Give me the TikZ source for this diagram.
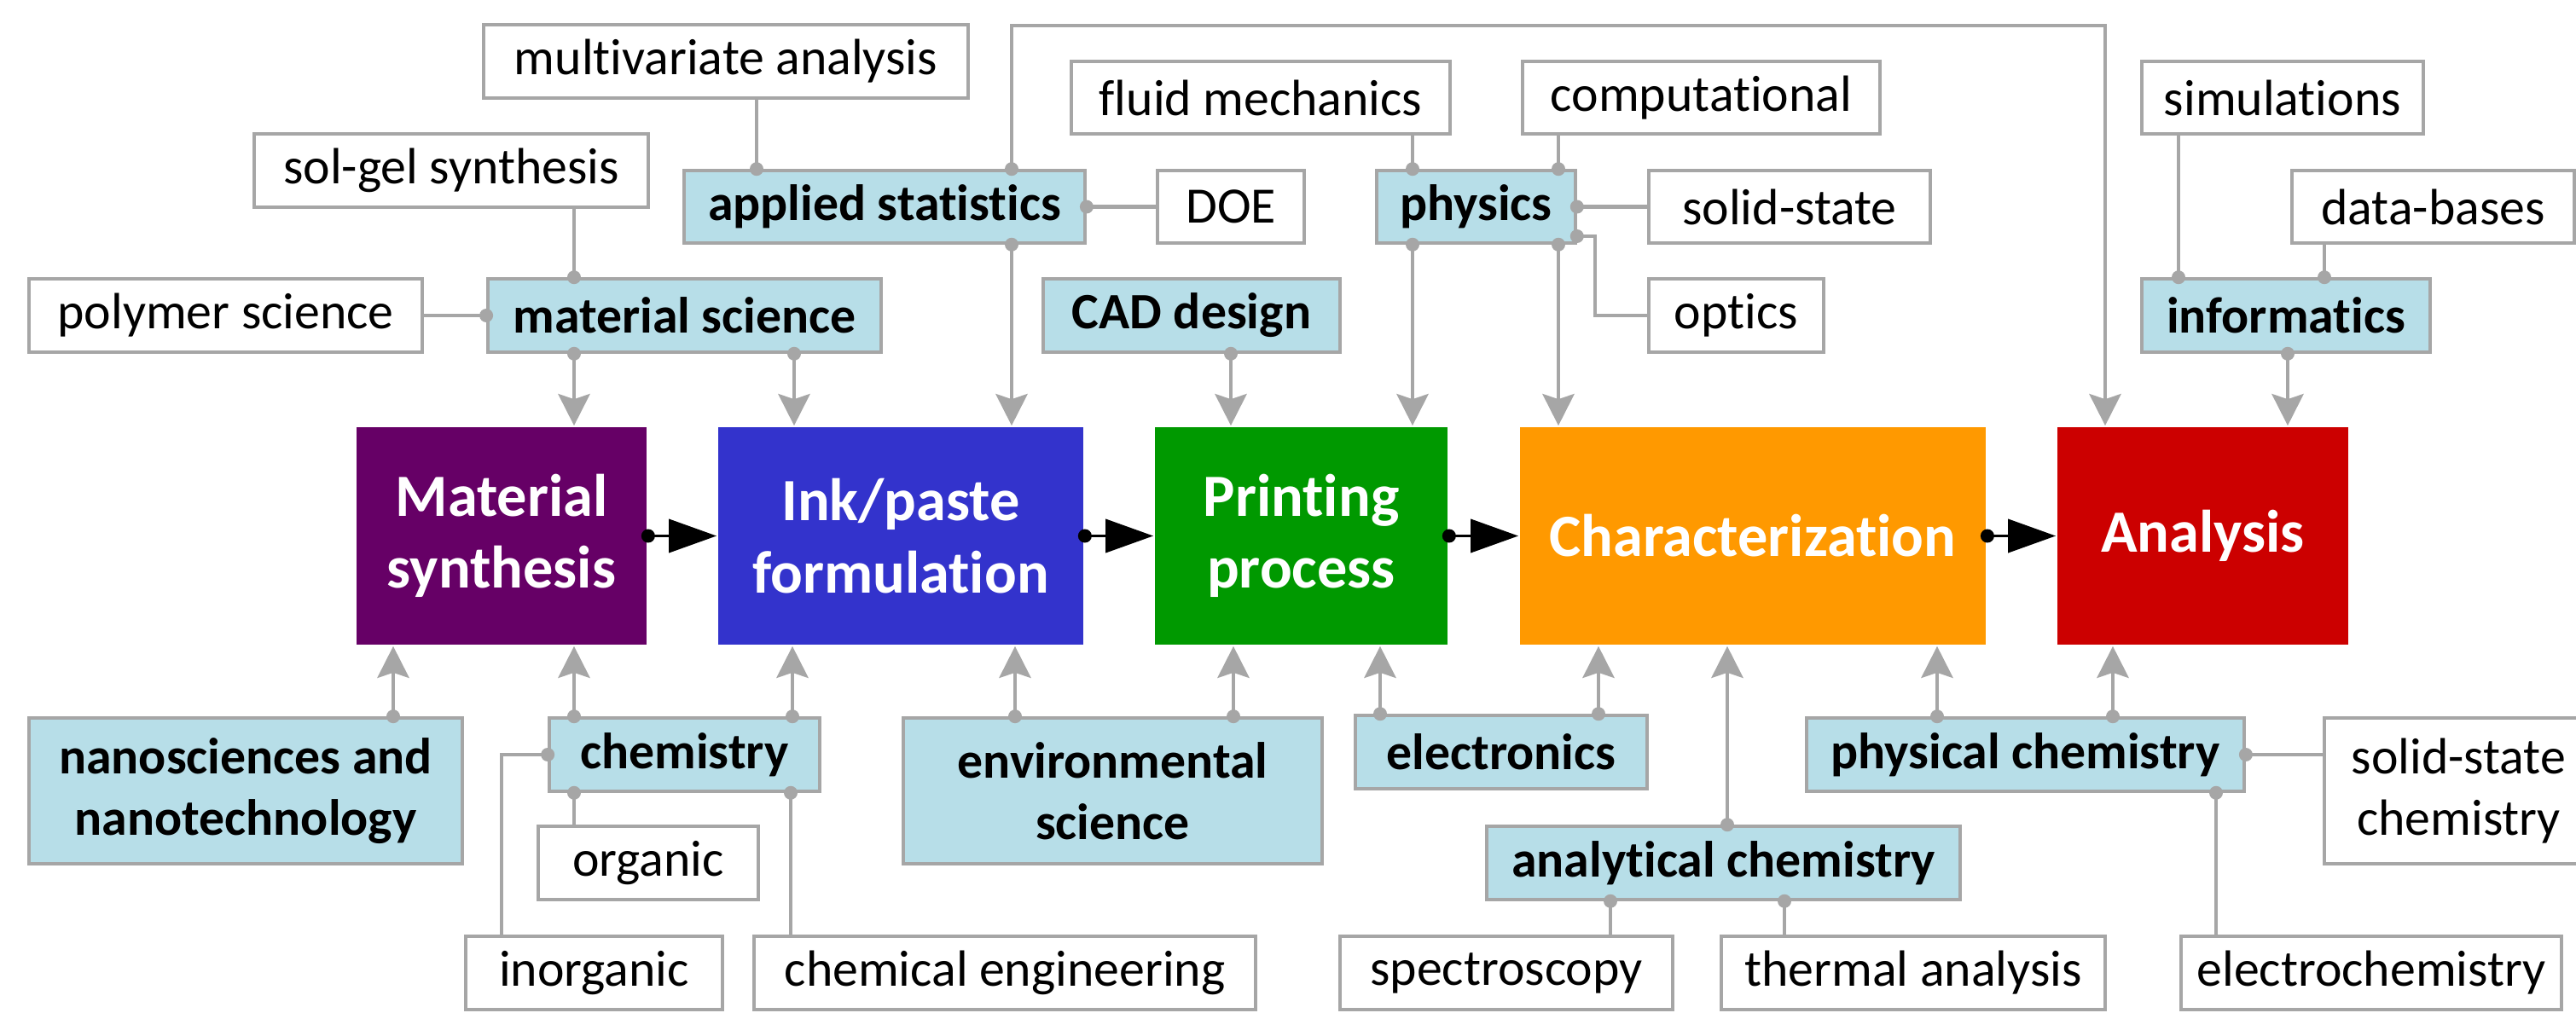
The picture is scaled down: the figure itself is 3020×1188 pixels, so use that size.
\documentclass[tikz,border=0pt]{standalone}
\usepackage{fontspec}
\setmainfont{Carlito}[Ligatures={NoCommon}]
\usetikzlibrary{arrows.meta}
\definecolor{lnk}{HTML}{A6A6A6}
\definecolor{lblue}{HTML}{B7DEE8}
\definecolor{cpurple}{HTML}{660066}
\definecolor{cblue}{HTML}{3333CC}
\definecolor{cgreen}{HTML}{009900}
\definecolor{corange}{HTML}{FF9900}
\definecolor{cred}{HTML}{CC0000}

\begin{document}
\begin{tikzpicture}[x=0.01cm,y=-0.01cm,
  base/.style={rectangle, inner sep=0pt, align=center, line width=1pt},
  leaf/.style={base, draw=lnk, fill=white, font=\fontsize{17}{20.5}\selectfont},
  topic/.style={base, draw=lnk, fill=lblue, font=\fontsize{17}{20.5}\selectfont\bfseries},
  stage/.style={base, draw=none, text=white, font=\fontsize{20}{24}\selectfont\bfseries},
  gline/.style={draw=lnk, line width=1.4pt},
  garrow/.style={gline, -{Stealth[length=3.7mm, width=3.7mm, inset=0.6mm]}},
  flow/.style={line width=1.1pt, -{Triangle[length=5.6mm, width=3.9mm]}},
  gdot/.style={circle, fill=lnk, inner sep=0pt, minimum size=1.6mm},
  kdot/.style={circle, fill=black, inner sep=0pt, minimum size=1.6mm},
]
\useasboundingbox (0,0) rectangle (3020,1188);

% ---------- main process chain ----------
\node[stage, fill=cpurple, minimum width=3.40cm, minimum height=2.55cm] (msyn)  at (588,628.5)  {Material\\synthesis};
\node[stage, fill=cblue,   minimum width=4.28cm, minimum height=2.55cm] (ink)   at (1056,628.5) {Ink/paste\\formulation};
\node[stage, fill=cgreen,  minimum width=3.43cm, minimum height=2.55cm] (print) at (1525.5,628.5) {Printing\\process};
\node[stage, fill=corange, minimum width=5.46cm, minimum height=2.55cm] (char)  at (2055,628.5) {Characterization};
\node[stage, fill=cred,    minimum width=3.41cm, minimum height=2.55cm] (ana)   at (2582.5,628.5) {Analysis};

% ---------- upper disciplines ----------
\node[leaf,  minimum width=5.68cm, minimum height=0.86cm] (multi)  at (851,72)     {multivariate analysis};
\node[leaf,  minimum width=4.44cm, minimum height=0.85cm] (fluid)  at (1478,114.5) {fluid mechanics};
\node[leaf,  minimum width=4.19cm, minimum height=0.85cm] (comp)   at (1994.5,114.5) {computational};
\node[leaf,  minimum width=3.30cm, minimum height=0.85cm] (sim)    at (2676,114.5) {simulations};
\node[leaf,  minimum width=4.62cm, minimum height=0.86cm] (solgel) at (529,200)    {sol-gel synthesis};
\node[topic, minimum width=4.70cm, minimum height=0.85cm] (stats)  at (1037,242.5) {applied statistics};
\node[leaf,  minimum width=1.72cm, minimum height=0.85cm] (doe)    at (1443,242.5) {DOE};
\node[topic, minimum width=2.33cm, minimum height=0.85cm] (phys)   at (1730.5,242.5) {physics};
\node[leaf,  minimum width=3.30cm, minimum height=0.85cm] (sstate) at (2098,242.5) {solid-state};
\node[leaf,  minimum width=3.31cm, minimum height=0.85cm] (dbase)  at (2852.5,242.5) {data-bases};
\node[leaf,  minimum width=4.61cm, minimum height=0.86cm] (poly)   at (264.5,370)  {polymer science};
\node[topic, minimum width=4.61cm, minimum height=0.86cm] (matsci) at (802.5,370)  {material science};
\node[topic, minimum width=3.48cm, minimum height=0.86cm] (cad)    at (1397,370)   {CAD design};
\node[leaf,  minimum width=2.05cm, minimum height=0.86cm] (optics) at (2035.5,370) {optics};
\node[topic, minimum width=3.38cm, minimum height=0.86cm] (info)   at (2680,370)   {informatics};

% ---------- lower disciplines ----------
\node[topic, minimum width=5.08cm, minimum height=1.71cm] (nano)   at (288,927.5)  {nanosciences and\\nanotechnology};
\node[topic, minimum width=3.17cm, minimum height=0.86cm] (chem)   at (802.5,885)  {chemistry};
\node[topic, minimum width=4.91cm, minimum height=1.71cm] (env)    at (1304.5,927.5) {environmental\\science};
\node[topic, minimum width=3.42cm, minimum height=0.86cm] (elec)   at (1760,882)   {electronics};
\node[topic, minimum width=5.13cm, minimum height=0.86cm] (pchem)  at (2374.5,885) {physical chemistry};
\node[leaf,  minimum width=3.15cm, minimum height=1.71cm] (sschem) at (2882.5,927.5) {solid-state\\chemistry};
\node[leaf,  minimum width=2.58cm, minimum height=0.86cm] (organic) at (760,1012)  {organic};
\node[topic, minimum width=5.55cm, minimum height=0.86cm] (anchem) at (2020.5,1012) {analytical chemistry};
\node[leaf,  minimum width=3.01cm, minimum height=0.86cm] (inorg)  at (696.5,1141) {inorganic};
\node[leaf,  minimum width=5.88cm, minimum height=0.86cm] (chemeng) at (1178,1141) {chemical engineering};
\node[leaf,  minimum width=3.90cm, minimum height=0.86cm] (spec)   at (1766,1141)  {spectroscopy};
\node[leaf,  minimum width=4.50cm, minimum height=0.86cm] (therm)  at (2243,1141)  {thermal analysis};
\node[leaf,  minimum width=4.46cm, minimum height=0.86cm] (electro) at (2780,1141) {electrochemistry};

% ---------- flow between stages ----------
\draw[flow] (msyn.east)  node[kdot]{} -- (ink.west);
\draw[flow] (ink.east)   node[kdot]{} -- (print.west);
\draw[flow] (print.east) node[kdot]{} -- (char.west);
\draw[flow] (char.east)  node[kdot]{} -- (ana.west);

% ---------- links among upper disciplines ----------
\draw[gline] (887,0 |- stats.north) node[gdot]{} -- (887,0 |- multi.south);
\draw[gline] (673,0 |- matsci.north) node[gdot]{} -- (673,0 |- solgel.south);
\draw[gline] (matsci.west) node[gdot]{} -- (poly.east);
\draw[gline] (stats.east) node[gdot]{} -- (doe.west);
\draw[gline] (1656,0 |- phys.north) node[gdot]{} -- (1656,0 |- fluid.south);
\draw[gline] (1827,0 |- phys.north) node[gdot]{} -- (1827,0 |- comp.south);
\draw[gline] (phys.east) node[gdot]{} -- (sstate.west);
\draw[gline] (phys.east |- 0,277) node[gdot]{} -| (1870,0 |- optics.west) -- (optics.west);
\draw[gline] (2554,0 |- info.north) node[gdot]{} -- (2554,0 |- sim.south);
\draw[gline] (2725,0 |- info.north) node[gdot]{} -- (2725,0 |- dbase.south);

% ---------- upper disciplines feeding the stages ----------
\coordinate (topbend) at (2468,30);
\draw[garrow] (1186,0 |- stats.north) node[gdot]{} |- (topbend) -- (2468,0 |- ana.north);
\draw[garrow] (673,0 |- matsci.south) node[gdot]{} -- (673,0 |- msyn.north);
\draw[garrow] (931,0 |- matsci.south) node[gdot]{} -- (931,0 |- ink.north);
\draw[garrow] (1186,0 |- stats.south) node[gdot]{} -- (1186,0 |- ink.north);
\draw[garrow] (1443,0 |- cad.south) node[gdot]{} -- (1443,0 |- print.north);
\draw[garrow] (1656,0 |- phys.south) node[gdot]{} -- (1656,0 |- print.north);
\draw[garrow] (1827,0 |- phys.south) node[gdot]{} -- (1827,0 |- char.north);
\draw[garrow] (2682,0 |- info.south) node[gdot]{} -- (2682,0 |- ana.north);

% ---------- lower disciplines feeding the stages ----------
\draw[garrow] (461,0 |- nano.north) node[gdot]{} -- (461,0 |- msyn.south);
\draw[garrow] (673,0 |- chem.north) node[gdot]{} -- (673,0 |- msyn.south);
\draw[garrow] (929,0 |- chem.north) node[gdot]{} -- (929,0 |- ink.south);
\draw[garrow] (1190,0 |- env.north) node[gdot]{} -- (1190,0 |- ink.south);
\draw[garrow] (1446,0 |- env.north) node[gdot]{} -- (1446,0 |- print.south);
\draw[garrow] (1618,0 |- elec.north) node[gdot]{} -- (1618,0 |- print.south);
\draw[garrow] (1874,0 |- elec.north) node[gdot]{} -- (1874,0 |- char.south);
\draw[garrow] (2025,0 |- anchem.north) node[gdot]{} -- (2025,0 |- char.south);
\draw[garrow] (2271,0 |- pchem.north) node[gdot]{} -- (2271,0 |- char.south);
\draw[garrow] (2477,0 |- pchem.north) node[gdot]{} -- (2477,0 |- ana.south);

% ---------- links among lower disciplines ----------
\draw[gline] (chem.west) node[gdot]{} -| (588,0 |- inorg.north);
\draw[gline] (673,0 |- chem.south) node[gdot]{} -- (673,0 |- organic.north);
\draw[gline] (927,0 |- chem.south) node[gdot]{} -- (927,0 |- chemeng.north);
\draw[gline] (1888,0 |- anchem.south) node[gdot]{} -- (1888,0 |- spec.north);
\draw[gline] (2092,0 |- anchem.south) node[gdot]{} -- (2092,0 |- therm.north);
\draw[gline] (pchem.east) node[gdot]{} -- (pchem.east -| sschem.west);
\draw[gline] (2598,0 |- pchem.south) node[gdot]{} -- (2598,0 |- electro.north);
\end{tikzpicture}
\end{document}
